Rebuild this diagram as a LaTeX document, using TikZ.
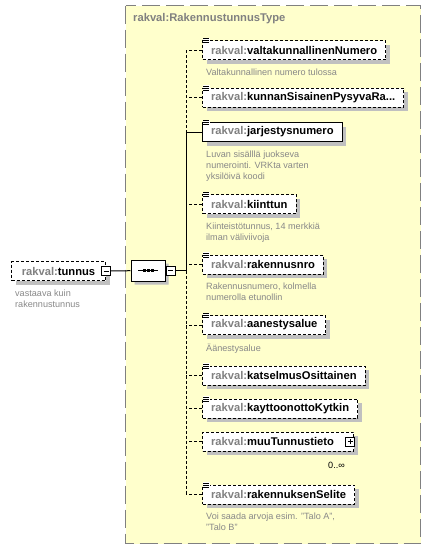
\documentclass[tikz,border=0pt]{standalone}
\usepackage{fontspec}
\setmainfont{Liberation Sans}
\usetikzlibrary{positioning,shadows,shapes.misc}

\definecolor{typebg}{RGB}{255,255,204}
\definecolor{typeline}{RGB}{128,128,128}
\definecolor{pfxgray}{RGB}{128,128,128}
\definecolor{docgray}{RGB}{136,136,136}
\definecolor{shadowgray}{RGB}{192,192,192}

\newcommand{\rk}[1]{\textcolor{pfxgray}{rakval:}#1}

\tikzset{
  elem/.style={draw, fill=white, anchor=west, minimum height=19pt, inner xsep=8.5pt,
    inner ysep=0pt, line width=1pt, font=\fontsize{11.2}{13}\selectfont\bfseries,
    drop shadow={shadow xshift=4pt, shadow yshift=-4pt, fill=shadowgray, opacity=1}},
  optional/.style={dash pattern=on 3pt off 2pt},
  doc/.style={below right=8.3pt and 4pt of #1.south west, inner sep=0pt, align=left,
    text=docgray, font=\fontsize{9.1}{11}\selectfont},
  toggle/.style={draw, fill=white, minimum size=9pt, inner sep=0pt, line width=0.8pt},
  sequence/.style={chamfered rectangle, chamfered rectangle xsep=4.5pt,
    chamfered rectangle ysep=4.5pt, draw, fill=white, line width=1pt,
    minimum width=34pt, minimum height=21pt, inner sep=0pt,
    drop shadow={shadow xshift=3.5pt, shadow yshift=-3.5pt, fill=shadowgray, opacity=1}},
  link/.style={line width=1pt},
  typeframe/.style={fill=typebg, draw=typeline, line width=1.3pt, dash pattern=on 18pt off 6pt},
  typetitle/.style={anchor=west, inner sep=0pt, text=pfxgray, font=\fontsize{11.2}{13}\selectfont\bfseries}
}

\begin{document}
\begin{tikzpicture}[x=1pt,y=-1pt]
\useasboundingbox (0,0) rectangle (431,550);

% complex type
\draw[typeframe] (125.5,5.5) rectangle (420.5,543.5);
\node[typetitle] (typetitle) at (133,19) {rakval:RakennustunnusType};

% root element and sequence
\node[elem, optional, minimum width=94pt] (tunnus) at (11,271) {\rk{tunnus}};
\node[toggle] (tunminus) at (tunnus.east) {};
\draw[line width=0.8pt] ([xshift=-2.5pt]tunminus.center) -- ([xshift=2.5pt]tunminus.center);
\node[doc=tunnus] (tunnusdoc) {vastaava kuin\\rakennustunnus};

\node[sequence] (seq) at (148,270.5) {};
\draw[line width=1pt] ([xshift=-10pt]seq.center) -- ([xshift=10pt]seq.center);
\foreach \dx in {-4,0,4}
  \fill ([xshift=\dx pt-1.5pt, yshift=-1.5pt]seq.center) rectangle ++(3pt,3pt);
\node[toggle] (seqminus) at (170.5,270.5) {};
\draw[line width=0.8pt] ([xshift=-2.5pt]seqminus.center) -- ([xshift=2.5pt]seqminus.center);
\coordinate (spine) at (186,270.5);

% child elements
\node[elem, optional] (valt) at (202,50) {\rk{valtakunnallinenNumero}};
\node[doc=valt] (valtdoc) {Valtakunnallinen numero tulossa};
\node[elem, optional] (kunnan) at (202,97.5) {\rk{kunnanSisainenPysyvaRa...}};
\node[elem] (jarj) at (202,132) {\rk{jarjestysnumero}};
\node[doc=jarj] (jarjdoc) {Luvan sisälllä juokseva\\numerointi. VRKta varten\\yksilöivä koodi};
\node[elem, optional] (kiinttun) at (202,204) {\rk{kiinttun}};
\node[doc=kiinttun] (kiinttundoc) {Kiinteistötunnus, 14 merkkiä\\ilman väliviivoja};
\node[elem, optional] (raknro) at (202,264.5) {\rk{rakennusnro}};
\node[doc=raknro] (raknrodoc) {Rakennusnumero, kolmella\\numerolla etunollin};
\node[elem, optional] (aanest) at (202,325) {\rk{aanestysalue}};
\node[doc=aanest] (aanestdoc) {Äänestysalue};
\node[elem, optional] (katsel) at (202,375.5) {\rk{katselmusOsittainen}};
\node[elem, optional] (kaytto) at (202,408.5) {\rk{kayttoonottoKytkin}};
\node[elem, optional] (muu) at (202,441.5) {\rk{muuTunnustieto}\kern 11pt};
\node[toggle] (muuplus) at ([xshift=-4pt]muu.east) {};
\draw[line width=0.8pt] ([xshift=-2.5pt]muuplus.center) -- ([xshift=2.5pt]muuplus.center)
  ([yshift=-2.5pt]muuplus.center) -- ([yshift=2.5pt]muuplus.center);
\node[below left=10.5pt and 9pt of muu.south east, inner sep=0pt, font=\fontsize{9.1}{11}\selectfont]
  (muuocc) {0..∞};
\node[elem, optional] (selite) at (202,494.5) {\rk{rakennuksenSelite}};
\node[doc=selite] (selitedoc) {Voi saada arvoja esim. "Talo A",\\"Talo B"};

% documentation icons
\foreach \e in {valt,kunnan,jarj,kiinttun,raknro,aanest,katsel,kaytto,selite}{
  \fill[white] ([xshift=1.2pt,yshift=2.5pt]\e.north west) rectangle ++(6.5pt,-6pt);
  \foreach \d in {1.5,-0.5,-2.5}
    \draw[line width=0.8pt] ([xshift=1.2pt,yshift=\d pt]\e.north west) -- ++(5.5pt,0pt);
}

% connectors
\draw[link] (tunminus) -- (seq);
\draw[link] (seqminus) -- (spine);
\foreach \e in {valt,kunnan,kiinttun,raknro,aanest,katsel,kaytto,muu,selite}
  \draw[link, optional] (\e.west) -- (\e.west -| spine);
\draw[link] (jarj.west) -- (jarj.west -| spine);
\draw[link, optional] (valt.west -| spine) -- (jarj.west -| spine);
\draw[link] (jarj.west -| spine) -- (spine);
\draw[link, optional] (spine) -- (selite.west -| spine);
\end{tikzpicture}
\end{document}
